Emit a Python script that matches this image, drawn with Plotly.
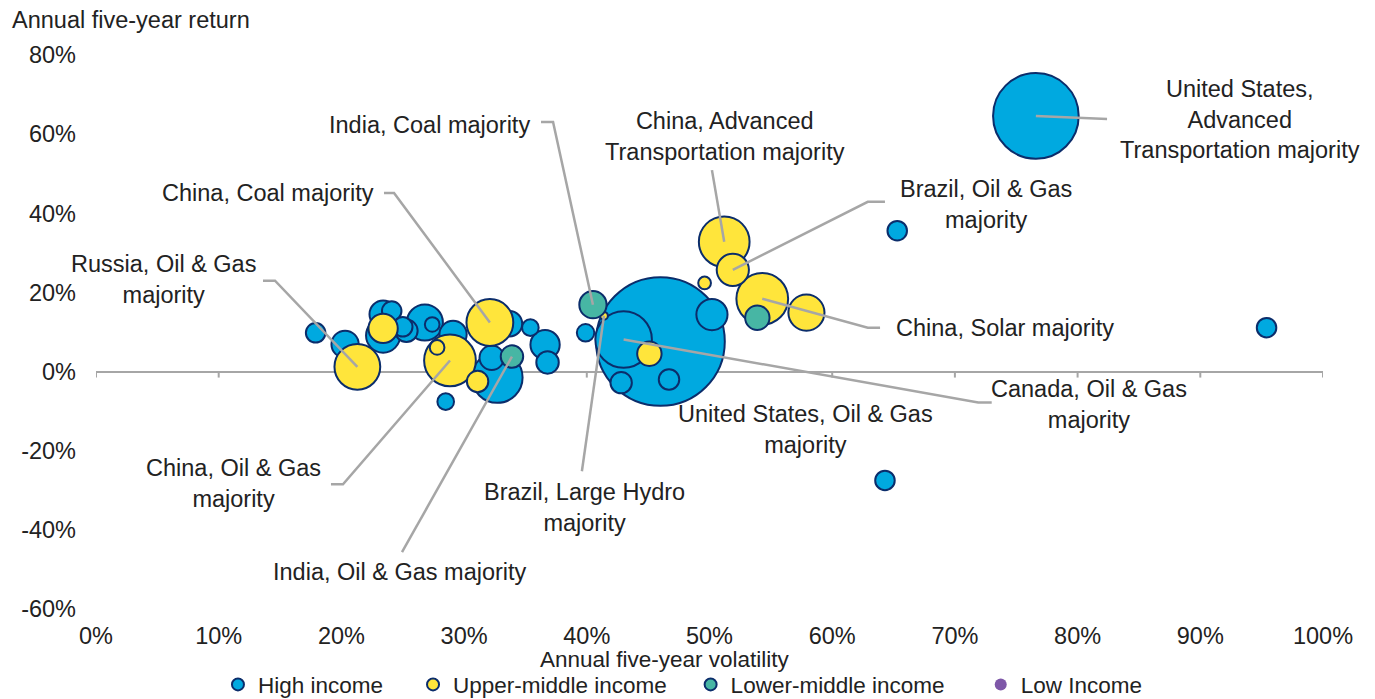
import plotly.graph_objects as go

# ---- data: annual five-year volatility (%), annual five-year return (%), bubble weight ----
# points in each series are listed largest first so that small bubbles sit on top
high_x = [46.0, 76.6, 43.0, 32.7, 26.8, 23.4, 50.2, 36.6, 29.1, 23.4, 20.3, 33.7, 32.25, 25.3, 36.8,
          42.8, 46.7, 24.1, 17.9, 25.0, 65.3, 64.3, 95.4, 39.9, 35.4, 28.5, 27.4]
high_y = [7.6, 64.6, 8.1, -1.5, 12.4, 9.1, 14.4, 6.8, 9.4, 14.5, 6.9, 12.1, 3.5, 10.3, 2.3,
          -2.8, -2.0, 15.3, 9.8, 11.3, 35.6, -27.5, 11.1, 9.8, 11.1, -7.6, 11.9]
high_w = [174, 77, 33.6, 27.0, 13.7, 12.25, 10.2, 9.0, 7.8, 7.8, 7.8, 6.8, 6.25, 5.3, 5.3,
          4.8, 4.4, 4.0, 4.0, 4.0, 4.0, 4.0, 4.0, 3.2, 2.9, 2.9, 2.25]

upper_x = [28.85, 54.3, 51.2, 32.1, 21.3, 57.9, 51.9, 23.4, 45.1, 31.1, 27.8, 49.6, 41.4]
upper_y = [2.8, 18.4, 32.8, 12.4, 1.2, 14.9, 25.7, 10.9, 4.5, -2.5, 6.1, 22.4, 14.1]
upper_w = [28.1, 28.1, 27.0, 23.0, 22.0, 13.7, 10.9, 9.0, 6.25, 4.8, 2.25, 1.7, 0.64]

lower_x = [40.5, 53.9, 33.9]
lower_y = [16.9, 13.6, 3.8]
lower_w = [7.8, 6.25, 5.3]

# no low-income entries in this sample
low_x = [None]
low_y = [None]

x_ticks = [0, 10, 20, 30, 40, 50, 60, 70, 80, 90, 100]
x_tick_labels = ["0%", "10%", "20%", "30%", "40%", "50%", "60%", "70%", "80%", "90%", "100%"]
y_ticks = [80, 60, 40, 20, 0, -20, -40, -60]
y_tick_labels = ["80%", "60%", "40%", "20%", "0%", "-20%", "-40%", "-60%"]

NB = "\u00a0"
# name, x, y, weight, fill, outline width, trailing legend gap (non-breaking spaces)
series = [
    ("High income", high_x, high_y, high_w, "#00A9E0", 2, NB * 4),
    ("Upper-middle income", upper_x, upper_y, upper_w, "#FFE53B", 2, NB * 3),
    ("Lower-middle income", lower_x, lower_y, lower_w, "#47B6A4", 2, NB * 5),
    ("Low Income", low_x, low_y, None, "#7E57A8", 0, ""),
]

# callouts: (series, point index, text, label position, elbow points of the leader line)
callouts = [
    ("High income", 0, "United States, Oil & Gas<br>majority", (57.8, -14.6), None),
    ("High income", 1, "United States,<br>Advanced<br>Transportation majority", (93.2, 63.6),
     [(82.4, 63.8)]),
    ("High income", 2, "Canada, Oil & Gas<br>majority", (80.9, -8.3), [(73.0, -7.8), (71.9, -7.8)]),
    ("Upper-middle income", 0, "China, Oil & Gas<br>majority", (11.2, -28.2),
     [(19.15, -28.5), (20.13, -28.5)]),
    ("Upper-middle income", 1, "China, Solar majority", (74.1, 11.1), [(63.9, 11.1), (62.9, 11.1)]),
    ("Upper-middle income", 2, "China, Advanced<br>Transportation majority", (51.3, 59.5),
     [(50.2, 50.9)]),
    ("Upper-middle income", 3, "China, Coal majority", (14.0, 45.1), [(23.47, 45.15), (24.29, 45.15)]),
    ("Upper-middle income", 4, "Russia, Oil & Gas<br>majority", (5.5, 23.2),
     [(13.61, 22.95), (14.59, 22.95)]),
    ("Upper-middle income", 6, "Brazil, Oil & Gas<br>majority", (72.5, 42.1), [(64.3, 42.9), (62.9, 42.9)]),
    ("Upper-middle income", 12, "Brazil, Large Hydro<br>majority", (39.8, -34.3), [(39.6, -25.2)]),
    ("Lower-middle income", 0, "India, Coal majority", (27.2, 62.3), [(36.27, 63.05), (37.25, 63.05)]),
    ("Lower-middle income", 2, "India, Oil & Gas majority", (24.8, -50.7), [(24.94, -45.65)]),
]

FONT = "Liberation Sans, Arial, sans-serif"
TEXT = "#222222"
OUTLINE = "#0B2D6B"
LEADER = "#A6A6A6"
FS = 23.5
FS_BOTTOM = 22.5

fig = go.Figure()
lookup = {}
for name, xs, ys, ws, color, lw, gap in series:
    lookup[name] = (xs, ys)
    fig.add_trace(go.Scatter(
        x=xs, y=ys, mode="markers", name=name + gap, showlegend=True,
        marker=dict(size=ws if ws else 10, sizemode="area", sizeref=0.021, color=color,
                    line=dict(color=OUTLINE, width=lw), opacity=1),
        cliponaxis=False, hovertemplate=name + ": %{x}%, %{y}%<extra></extra>",
    ))

shapes = []
annotations = []
for name, idx, text, (lx, ly), elbow in callouts:
    xs, ys = lookup[name]
    annotations.append(dict(x=lx, y=ly, xref="x", yref="y", text=text, showarrow=False,
                            align="center", xanchor="center", yanchor="middle",
                            font=dict(family=FONT, size=FS, color=TEXT)))
    if elbow:
        pts = list(elbow) + [(xs[idx], ys[idx])]
        path = "M " + " L ".join(f"{px},{py}" for px, py in pts)
        shapes.append(dict(type="path", path=path, xref="x", yref="y",
                           line=dict(color=LEADER, width=2.5), layer="above"))

# small tick marks hanging from the zero line
for t in x_ticks:
    shapes.append(dict(type="line", xref="x", yref="y", x0=t, x1=t,
                       ysizemode="pixel", yanchor=0, y0=0, y1=-6,
                       line=dict(color=LEADER, width=2), layer="below"))

annotations.append(dict(x=-0.0701, y=1.0632, xref="paper", yref="paper",
                        text="Annual five-year return", showarrow=False,
                        xanchor="left", yanchor="middle",
                        font=dict(family=FONT, size=FS, color=TEXT)))
annotations.append(dict(x=0.4637, y=-0.0903, xref="paper", yref="paper",
                        text="Annual five-year volatility", showarrow=False,
                        xanchor="center", yanchor="middle",
                        font=dict(family=FONT, size=FS_BOTTOM, color=TEXT)))

fig.update_layout(
    width=1375, height=699,
    margin=dict(l=96, r=52, t=55, b=90, autoexpand=False),
    paper_bgcolor="white", plot_bgcolor="white",
    font=dict(family=FONT, size=FS, color=TEXT),
    showlegend=True,
    legend=dict(orientation="h", x=0.0994, xanchor="left", y=-0.098, yanchor="top",
                itemsizing="constant", font=dict(family=FONT, size=FS_BOTTOM, color=TEXT),
                bgcolor="rgba(0,0,0,0)", tracegroupgap=0),
    xaxis=dict(range=[0, 100], tickvals=x_ticks, ticktext=x_tick_labels, showgrid=False,
               zeroline=False, showline=False, ticks="", ticklabelstandoff=10,
               tickfont=dict(family=FONT, size=FS, color=TEXT)),
    yaxis=dict(range=[-60, 80], tickvals=y_ticks, ticktext=y_tick_labels, showgrid=False,
               zeroline=True, zerolinecolor=LEADER, zerolinewidth=2, showline=False,
               ticks="", ticklabelstandoff=19,
               tickfont=dict(family=FONT, size=FS, color=TEXT)),
    shapes=shapes,
    annotations=annotations,
)

fig.write_html("out.html")
